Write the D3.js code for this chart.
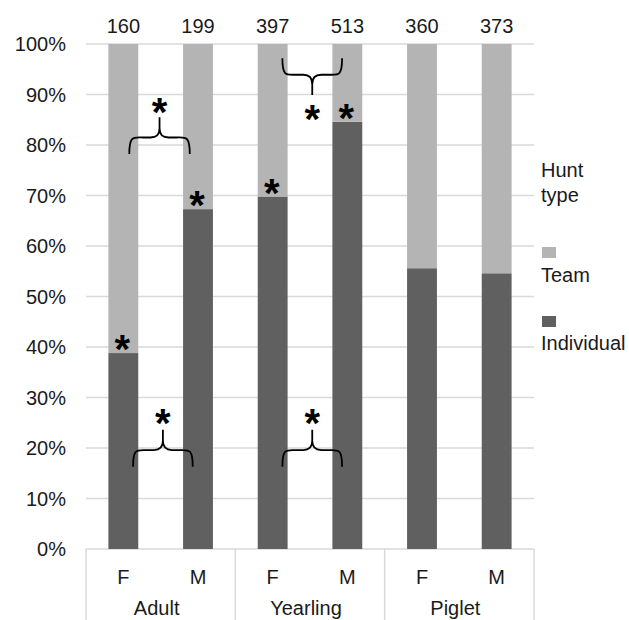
<!DOCTYPE html>
<html>
<head>
<meta charset="utf-8">
<script src="https://cdn.jsdelivr.net/npm/d3@7"></script>
<style>
  body { margin: 0; background: #fff; }
  text { font-family: "Liberation Sans", Arial, sans-serif; fill: #1a1a1a; }
</style>
</head>
<body>
<div id="chart"></div>
<script>
// categories
const groups = ["Adult", "Yearling", "Piglet"];
const sexes = ["F", "M"];
// sample size above each bar
const totals = [160, 199, 397, 513, 360, 373];
// percentages, in bar order (Adult F, Adult M, Yearling F, ...)
const individual = [38.8, 67.3, 69.8, 84.6, 55.6, 54.6];
const team = [61.2, 32.7, 30.2, 15.4, 44.4, 45.4];
const yTicks = [0, 10, 20, 30, 40, 50, 60, 70, 80, 90, 100];
// bars flagged with a star
const starred = ["Adult F", "Adult M", "Yearling F", "Yearling M"];
// brace annotations: between two bars, ends/tip/star in % units
const braces = [
    { from: "Adult F", to: "Adult M", end: 78.2, tip: 85.5, star: 88.2, off: [0.08, -0.11] },
    { from: "Adult F", to: "Adult M", end: 16.3, tip: 23.6, star: 26.6, off: [0.13, -0.07] },
    { from: "Yearling F", to: "Yearling M", end: 16.3, tip: 23.6, star: 26.6, off: [0.13, -0.07] },
    { from: "Yearling F", to: "Yearling M", end: 97.2, tip: 89.9, star: 86.9, off: [0.13, -0.07] }
];

const keys = [];
groups.forEach(g => sexes.forEach(s => keys.push(g + " " + s)));
const data = keys.map((k, i) => ({
    key: k, group: k.split(" ")[0], sex: k.split(" ")[1],
    n: totals[i], individual: individual[i], team: team[i]
}));

const W = 629, H = 620;
const plot = { left: 86, right: 534, top: 44, bottom: 549 };

const svg = d3.select("#chart")
    .append("svg")
    .attr("width", W)
    .attr("height", H);

const x = d3.scaleBand()
    .domain(keys)
    .range([plot.left, plot.right])
    .padding(0);

const xg = d3.scaleBand()
    .domain(groups)
    .range([plot.left, plot.right]);

const y = d3.scaleLinear()
    .domain([0, 100])
    .range([plot.bottom, plot.top]);

const barW = x.bandwidth() * 0.4;
const cx = k => x(k) + x.bandwidth() / 2;

// gridlines
svg.append("g")
    .selectAll("line")
    .data(yTicks)
    .join("line")
    .attr("x1", plot.left)
    .attr("x2", plot.right)
    .attr("y1", d => y(d))
    .attr("y2", d => y(d))
    .attr("stroke", "#d9d9d9")
    .attr("stroke-width", 1.5);

// y tick labels
svg.append("g")
    .selectAll("text")
    .data(yTicks)
    .join("text")
    .attr("x", 66)
    .attr("y", d => y(d))
    .attr("dy", "0.35em")
    .attr("text-anchor", "end")
    .style("font-size", "20px")
    .text(d => d + "%");

// stacked bars
const bars = svg.append("g");
bars.selectAll("rect.ind")
    .data(data)
    .join("rect")
    .attr("class", "ind")
    .attr("x", d => cx(d.key) - barW / 2)
    .attr("width", barW)
    .attr("y", d => y(d.individual))
    .attr("height", d => y(0) - y(d.individual))
    .attr("fill", "#606060");
bars.selectAll("rect.team")
    .data(data)
    .join("rect")
    .attr("class", "team")
    .attr("x", d => cx(d.key) - barW / 2)
    .attr("width", barW)
    .attr("y", d => y(d.individual + d.team))
    .attr("height", d => y(d.individual) - y(d.individual + d.team))
    .attr("fill", "#b4b4b4");

// sample sizes on top
svg.append("g")
    .selectAll("text")
    .data(data)
    .join("text")
    .attr("x", d => cx(d.key))
    .attr("y", 33)
    .attr("text-anchor", "middle")
    .style("font-size", "20px")
    .text(d => d.n);

// category axis box
const axisG = svg.append("g");
axisG.selectAll("line")
    .data(groups.map(g => xg(g)).concat([plot.right]))
    .join("line")
    .attr("x1", d => d)
    .attr("x2", d => d)
    .attr("y1", plot.bottom)
    .attr("y2", H)
    .attr("stroke", "#d9d9d9")
    .attr("stroke-width", 1.5);
axisG.selectAll("text.sex")
    .data(data)
    .join("text")
    .attr("class", "sex")
    .attr("x", d => cx(d.key))
    .attr("y", 584)
    .attr("text-anchor", "middle")
    .style("font-size", "20px")
    .text(d => d.sex);
axisG.selectAll("text.grp")
    .data(groups)
    .join("text")
    .attr("class", "grp")
    .attr("x", d => xg(d) + xg.bandwidth() / 2 - 4)
    .attr("y", 615)
    .attr("text-anchor", "middle")
    .style("font-size", "20px")
    .text(d => d);

// asterisk helper: centre the glyph on (px, py)
const starSize = 40;
function star(g, px, py) {
    g.append("text")
        .attr("x", px)
        .attr("y", py + starSize * 0.56)
        .attr("text-anchor", "middle")
        .style("font-size", starSize + "px")
        .style("font-weight", "bold")
        .style("fill", "#000")
        .text("*");
}

const ann = svg.append("g");

// stars over single bars
data.filter(d => starred.includes(d.key)).forEach(d => {
    star(ann, cx(d.key) - 1, y(d.individual + 2.4));
});

// curly braces
function bracePath(x1, x2, yEnd, yTip) {
    const xm = (x1 + x2) / 2;
    const dir = yTip < yEnd ? -1 : 1;
    const span = Math.abs(yTip - yEnd);
    const yS = yEnd + dir * span * 0.45;
    const ySt = yEnd + dir * span * 0.62;
    const p = d3.path();
    p.moveTo(x1, yEnd);
    p.bezierCurveTo(x1, yS + dir * 2, x1 + 4, yS, x1 + (xm - x1) * 0.45, yS);
    p.lineTo(xm - (xm - x1) * 0.3, yS);
    p.quadraticCurveTo(xm, yS, xm, ySt + dir * 3);
    p.lineTo(xm, yTip);
    p.moveTo(x2, yEnd);
    p.bezierCurveTo(x2, yS + dir * 2, x2 - 4, yS, x2 - (x2 - xm) * 0.45, yS);
    p.lineTo(xm + (x2 - xm) * 0.3, yS);
    p.quadraticCurveTo(xm, yS, xm, ySt + dir * 3);
    return p.toString();
}

braces.forEach(b => {
    const x1 = cx(b.from) + b.off[0] * x.bandwidth();
    const x2 = cx(b.to) + b.off[1] * x.bandwidth();
    ann.append("path")
        .attr("d", bracePath(x1, x2, y(b.end), y(b.tip)))
        .attr("fill", "none")
        .attr("stroke", "#000")
        .attr("stroke-width", 1.8);
    star(ann, (x1 + x2) / 2, y(b.star));
});

// legend
const lg = svg.append("g").attr("transform", "translate(541,0)");
lg.append("text").attr("y", 177).style("font-size", "20px").text("Hunt");
lg.append("text").attr("y", 202).style("font-size", "20px").text("type");
const legendItems = [
    { label: "Team", color: "#b4b4b4", sy: 247, ty: 282 },
    { label: "Individual", color: "#606060", sy: 316, ty: 350 }
];
legendItems.forEach(it => {
    lg.append("rect")
        .attr("x", 1)
        .attr("y", it.sy)
        .attr("width", 14)
        .attr("height", 11)
        .attr("fill", it.color);
    lg.append("text")
        .attr("y", it.ty)
        .style("font-size", "20px")
        .text(it.label);
});
</script>
</body>
</html>
